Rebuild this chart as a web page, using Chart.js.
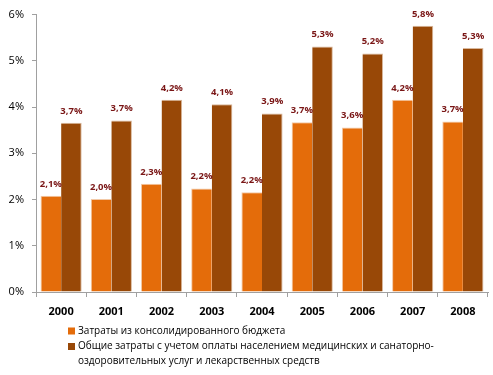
<!DOCTYPE html>
<html><head><meta charset="utf-8">
<script src="https://cdn.jsdelivr.net/npm/chart.js@4"></script>
<style>html,body{margin:0;padding:0;background:#fff}#w{width:493px;height:375px;position:relative}</style>
</head><body><div id="w"><canvas id="c" width="493" height="375"></canvas></div>
<script>
const categories = ['2000','2001','2002','2003','2004','2005','2006','2007','2008'];
const budgetValues = [2.08, 2.01, 2.34, 2.24, 2.16, 3.67, 3.56, 4.16, 3.69];
const totalValues = [3.66, 3.71, 4.16, 4.06, 3.86, 5.31, 5.16, 5.76, 5.28];
const seriesNames = ['Затраты из консолидированного бюджета',
  'Общие затраты с учетом оплаты населением медицинских и санаторно-\nоздоровительных услуг и лекарственных средств'];
const yTicks = [0,1,2,3,4,5,6];

const fmt = v => (Math.round(v*10)/10).toFixed(1).replace('.', ',') + '%';

const labelPlugin = {
  id: 'vals',
  afterDatasetsDraw(chart) {
    const ctx = chart.ctx;
    ctx.save();
    ctx.font = 'bold 9.5px "Open Sans", sans-serif';
    ctx.fillStyle = '#7a1616';
    ctx.textAlign = 'center';
    ctx.textBaseline = 'bottom';
    chart.data.datasets.forEach((ds, i) => {
      chart.getDatasetMeta(i).data.forEach((bar, j) => {
        ctx.fillText(fmt(ds.data[j]), bar.x, bar.y - 7);
      });
    });
    ctx.restore();
  }
};

const legendPlugin = {
  id: 'leg',
  afterDraw(chart) {
    const ctx = chart.ctx;
    ctx.save();
    ctx.font = '10px "Open Sans", sans-serif';
    ctx.textBaseline = 'middle';
    let y = 331;
    chart.data.datasets.forEach(ds => {
      ctx.fillStyle = ds.backgroundColor;
      ctx.fillRect(68, y - 3.5, 7, 7);
      ctx.fillStyle = '#000';
      ds.label.split('\n').forEach(line => {
        ctx.fillText(line, 78, y);
        y += 14.5;
      });
      y += 1;
    });
    ctx.restore();
  }
};

new Chart(document.getElementById('c'), {
  type: 'bar',
  data: {
    labels: categories,
    datasets: [
      { label: seriesNames[0], data: budgetValues, backgroundColor: '#E46C0A', borderColor: '#f3c9a6', borderWidth: {top:1,left:1,right:0,bottom:0} },
      { label: seriesNames[1], data: totalValues, backgroundColor: '#984807', borderColor: '#d9b89c', borderWidth: {top:1,left:0,right:1,bottom:0} }
    ]
  },
  options: {
    responsive: false,
    animation: false,
    layout: { padding: { top: 3, right: 5, left: 0, bottom: 0 } },
    plugins: { legend: { display: false }, tooltip: { enabled: false } },
    datasets: { bar: { categoryPercentage: 0.82, barPercentage: 1 } },
    scales: {
      x: {
        grid: { display: true, drawOnChartArea: false, drawTicks: true, tickLength: 5, color: '#a0a0a0', offset: true },
        border: { color: '#a0a0a0', width: 1 },
        ticks: { color: '#000', font: { family: '"Open Sans", sans-serif', size: 11, weight: 'bold' }, padding: 8 },
        afterFit(s) { s.height = 83; }
      },
      y: {
        min: 0, max: 6,
        afterBuildTicks(s) { s.ticks = yTicks.map(v => ({ value: v })); },
        grid: { display: true, drawOnChartArea: false, drawTicks: true, tickLength: 4, color: '#a0a0a0' },
        border: { color: '#a0a0a0', width: 1 },
        ticks: { color: '#000', font: { family: '"Open Sans", sans-serif', size: 11 }, padding: 8, callback: v => v + '%' },
        afterFit(s) { s.width = 36; }
      }
    }
  },
  plugins: [labelPlugin, legendPlugin]
});
</script></body></html>
